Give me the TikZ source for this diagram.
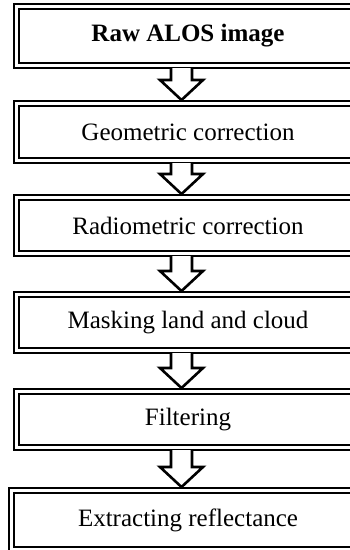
\documentclass[tikz,border=0pt]{standalone}
\usepackage{fontspec}
\setmainfont{Liberation Serif}
\usetikzlibrary{calc,fit}
\begin{document}
\begin{tikzpicture}[x=1pt,y=-1pt,
    stage/.style={rectangle, draw, line width=2pt, inner sep=0pt, outer sep=0pt, minimum width=338pt, minimum height=52pt, font=\fontsize{25}{30}\selectfont, align=center},
    frame/.style={rectangle, draw, line width=1.3pt, inner sep=5pt, outer sep=0pt},
    flow/.style={draw, line width=2.6pt, fill=white, line join=miter}
  ]
  \useasboundingbox (0,0) rectangle (350,550);
  \node[stage, minimum height=54pt] (raw) at (188,36) {\textbf{Raw ALOS image}};
  \node[stage] (geo) at (188,132) {Geometric correction};
  \node[stage, minimum height=51pt] (rad) at (188,225.5) {Radiometric correction};
  \node[stage, minimum height=51pt] (mask) at (188,322.5) {Masking land and cloud};
  \node[stage, minimum height=51pt] (filt) at (188,419.5) {Filtering};
  \node[stage, minimum width=348pt, minimum height=54pt] (ext) at (188,520) {Extracting reflectance};
  \foreach \n in {raw,geo,rad,mask,filt,ext}
    \node[frame, fit=(\n)] (\n-f) {};
  % block arrows between the stages
  \foreach \a/\b in {raw/geo,geo/rad,rad/mask,mask/filt,filt/ext}
    \draw[flow] ($(\a-f.south)+(-17,0)$) -- ($(\b-f.north)+(-17,-21)$) -- ($(\b-f.north)+(-28,-21)$)
      -- ($(\b-f.north)+(-6.5,-1)$) -- ($(\b-f.north)+(15,-21)$) -- ($(\b-f.north)+(4,-21)$) -- ($(\a-f.south)+(4,0)$);
\end{tikzpicture}
\end{document}
